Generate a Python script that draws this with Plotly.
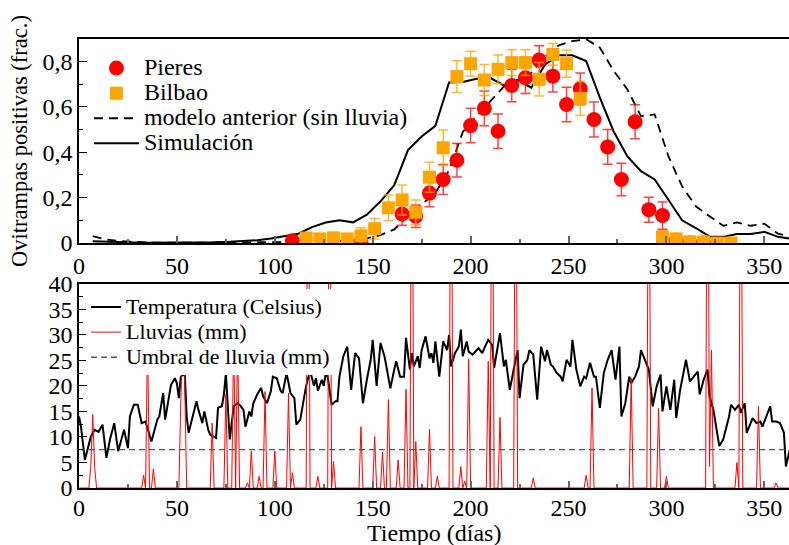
import plotly.graph_objects as go

# ---------------- top panel data ----------------
week_days = [7, 14, 21, 28, 35, 42, 49, 56, 63, 70, 77, 84, 91, 98, 105, 112, 119, 126,
             133, 140, 147, 154, 161, 168, 175, 182, 189, 196, 203, 210, 217, 224, 231,
             238, 245, 252, 259, 266, 273, 280, 287, 294, 301, 308, 315, 322, 329, 336,
             343, 350, 357, 364]
sim_vals = [0.008, 0.005, 0.003, 0.002, 0.001, 0.001, 0.001, 0.001, 0.002, 0.003, 0.005,
            0.008, 0.012, 0.02, 0.03, 0.041, 0.07, 0.09, 0.1, 0.091, 0.125, 0.184, 0.255,
            0.41, 0.47, 0.517, 0.708, 0.71, 0.725, 0.729, 0.695, 0.719, 0.685, 0.788, 0.828,
            0.828, 0.803, 0.641, 0.493, 0.383, 0.317, 0.28, 0.191, 0.1, 0.066, 0.029, 0.027,
            0.04, 0.04, 0.049, 0.027, 0.018]
prev_vals = [0.03, 0.015, 0.008, 0.004, 0.002, 0.001, 0.001, 0.001, 0.001, 0.001, 0.001,
             0.001, 0.002, 0.002, 0.003, 0.004, 0.005, 0.006, 0.007, 0.01, 0.02, 0.035, 0.06,
             0.12, 0.17, 0.221, 0.32, 0.49, 0.56, 0.626, 0.69, 0.72, 0.751, 0.822, 0.872,
             0.891, 0.899, 0.862, 0.76, 0.678, 0.56, 0.567, 0.383, 0.25, 0.162, 0.118, 0.076,
             0.091, 0.076, 0.085, 0.041, 0.027]

pieres_days = [109, 144, 165, 172, 179, 186, 193, 200, 207, 214, 221, 228, 235, 242, 249,
               256, 263, 270, 277, 284, 291, 298, 305, 312, 319]
pieres_vals = [0.01, 0.005, 0.128, 0.118, 0.22, 0.28, 0.365, 0.518, 0.594, 0.493, 0.695,
               0.729, 0.807, 0.736, 0.611, 0.68, 0.545, 0.424, 0.28, 0.535, 0.147, 0.121,
               0.012, 0.0, 0.0]
pieres_err = [0.015, 0.01, 0.05, 0.05, 0.06, 0.066, 0.074, 0.076, 0.077, 0.076, 0.072, 0.07,
              0.063, 0.07, 0.076, 0.07, 0.077, 0.077, 0.072, 0.075, 0.055, 0.06, 0.0, 0.0, 0.0]

bilbao_days = [116, 123, 130, 137, 144, 151, 158, 165, 172, 179, 186, 193, 200, 207, 214,
               221, 228, 235, 242, 249, 256, 298, 305, 312, 319, 326, 333]
bilbao_vals = [0.022, 0.018, 0.022, 0.018, 0.032, 0.063, 0.155, 0.19, 0.135, 0.29, 0.42,
               0.734, 0.791, 0.719, 0.766, 0.796, 0.796, 0.722, 0.832, 0.791, 0.638, 0.027,
               0.018, 0.005, 0.005, 0.0, 0.0]
bilbao_err = [0.02, 0.02, 0.025, 0.02, 0.035, 0.045, 0.057, 0.066, 0.055, 0.066, 0.078, 0.07,
              0.055, 0.068, 0.063, 0.057, 0.057, 0.074, 0.048, 0.06, 0.075, 0.025, 0.015,
              0.008, 0.008, 0.005, 0.005]

# ---------------- bottom panel data ----------------
temp_days = [0, 1, 3, 6, 8, 10, 12, 14, 16, 18, 20, 21, 23, 25, 26, 28, 30, 32, 34, 35, 37,
             40, 41, 43, 44, 46, 47, 49, 50, 51, 52, 54, 55, 56, 58, 60, 61, 63, 64, 66, 67,
             69, 70, 71, 73, 74, 75, 77, 79, 81, 82, 84, 85, 87, 88, 89, 91, 93, 94, 96, 98,
             99, 101, 103, 104, 106, 108, 110, 111, 113, 115, 116, 118, 120, 121, 122, 124,
             125, 126, 127, 129, 131, 132, 133, 135, 137, 139, 140, 141, 143, 145, 147, 149,
             150, 152, 154, 156, 157, 159, 161, 162, 164, 166, 167, 169, 170, 171, 173, 174,
             175, 177, 179, 180, 181, 182, 184, 186, 188, 189, 190, 192, 194, 195, 196, 198,
             199, 201, 204, 206, 207, 209, 211, 212, 215, 217, 218, 220, 222, 224, 225, 227,
             229, 230, 232, 234, 236, 238, 239, 241, 242, 244, 246, 247, 249, 251, 252, 254,
             256, 258, 259, 261, 263, 264, 266, 268, 270, 272, 274, 276, 277, 279, 281, 282,
             284, 286, 287, 289, 291, 293, 295, 297, 298, 300, 302, 304, 305, 307, 309, 310,
             312, 314, 316, 317, 319, 321, 322, 324, 326, 327, 329, 331, 332, 333, 335, 337,
             338, 340, 341, 343, 344, 346, 348, 349, 351, 353, 354, 356, 358, 360, 361, 363]
temp_vals = [14, 12, 5.5, 10, 11.4, 11, 12.4, 5.9, 9.8, 12.7, 7.2, 8.8, 11.4, 7.8, 14, 16.3,
             16.3, 12.7, 13, 11.7, 9.1, 13.4, 14, 18.6, 13.4, 18, 20.2, 21.5, 20.5, 17.6, 21.8,
             22.5, 14, 10.8, 14, 17, 15.3, 12.7, 15, 11.4, 10.4, 10.1, 9.8, 15.7, 16, 18.3,
             22.5, 9.5, 16, 16.6, 16.3, 15.3, 12, 15, 14, 16.6, 18.3, 19.6, 18, 16.6, 19, 21.8,
             21.5, 19, 18.6, 22.5, 18.6, 17.6, 12.4, 13.4, 18.3, 20, 23, 20, 21.5, 19, 21.2, 20,
             22.5, 21.8, 16.3, 17, 17, 21.8, 25.8, 27.7, 19.2, 23, 26.4, 25.4, 16.6, 21.2, 25.1,
             29, 20, 28.4, 25.8, 23.8, 19.5, 23.2, 24.8, 21.8, 21.8, 29.4, 23.2, 26.4, 23.8,
             25.8, 23.5, 27, 29.7, 25.4, 26.4, 24.5, 28.7, 21.8, 28.7, 27, 30, 23.8, 26.4, 27.7,
             31, 25.8, 28.7, 26.7, 26.1, 27.4, 26.4, 27.4, 29, 28, 23.5, 30.3, 23.8, 25.1, 19.2,
             23.2, 27, 17.6, 24.1, 25.1, 27, 26.1, 17.3, 27.7, 24.8, 27, 24.1, 23.8, 22.5, 21.8,
             20.9, 25.1, 23.8, 29, 23.2, 19.9, 21.8, 21.5, 24.5, 21.8, 21.8, 15.7, 22.5, 25.1,
             27, 21.2, 27.7, 14, 16.6, 21.8, 20.5, 21.8, 23.8, 27, 25.1, 23.2, 16, 19.9, 22.2,
             15, 19.9, 15.3, 21.2, 13.7, 19.2, 23.2, 25.1, 20.9, 21.8, 22.8, 18.3, 21.2, 23.2,
             18, 15.3, 10.1, 8.2, 9.5, 12.7, 14, 16.3, 15.3, 16.3, 14.7, 16.6, 10.8, 12.7, 13.7,
             12.7, 13, 12, 14, 16, 13, 13, 12.7, 10.8, 4.2, 7.5]

rain_days = [6, 7, 8, 33, 35, 38, 52, 53, 54, 68, 75, 79, 81, 86, 88, 92, 95, 100, 107, 109,
             117, 122, 128, 130, 144, 151, 155, 158, 163, 167, 170, 172, 179, 183, 190, 195,
             197, 199, 209, 211, 215, 223, 232, 259, 262, 282, 291, 296, 300, 321, 322, 323,
             336, 338, 347, 356]
rain_mm = [4, 14.4, 4, 2.5, 30, 3.7, 17.3, 30, 20, 12.7, 18.3, 30, 30, 1, 7.2, 2.3, 18.9, 7.2,
           18.6, 3, 90, 2.3, 90, 5.2, 12, 10.1, 7, 17.3, 5.5, 19.3, 90, 9.1, 11.5, 2.3, 90, 4.2,
           1.3, 25.3, 24.8, 90, 13.8, 90, 2, 2.5, 19.6, 21.5, 90, 15.6, 2.3, 90, 4.2, 27, 5,
           90, 16, 1]
rain_threshold = 7.5
year_days = list(range(0, 365))

x_ticks = [0, 50, 100, 150, 200, 250, 300, 350]
y1_ticks = [0, 0.2, 0.4, 0.6, 0.8]
y1_labels = ["0", "0,2", "0,4", "0,6", "0,8"]
y2_ticks = [0, 5, 10, 15, 20, 25, 30, 35, 40]

# daily rainfall series (zero on days without rain)
rain_lookup = dict(zip(rain_days, rain_mm))
rain_daily = [rain_lookup.get(d, 0) for d in year_days]

FONT = "Liberation Serif"
TICK = 24


def big(text, size):
    return '<span style="font-size:%dpx">%s</span>' % (size, text)


fig = go.Figure()

# top panel
fig.add_trace(go.Scatter(x=week_days, y=prev_vals, mode="lines",
                         name=big("modelo anterior (sin lluvia)", 24),
                         line=dict(color="black", width=1.8, dash="9px,6px"),
                         legend="legend", legendrank=3, xaxis="x", yaxis="y"))
fig.add_trace(go.Scatter(x=week_days, y=sim_vals, mode="lines", name=big("Simulación", 24),
                         line=dict(color="black", width=2),
                         legend="legend", legendrank=4, xaxis="x", yaxis="y"))
fig.add_trace(go.Scatter(x=pieres_days, y=pieres_vals, mode="markers", name=big("Pieres", 24),
                         marker=dict(color="#ff0000", size=15, symbol="circle"),
                         error_y=dict(type="data", array=pieres_err, color="rgba(255,0,0,0.75)",
                                      thickness=1.5, width=5),
                         legend="legend", legendrank=1, xaxis="x", yaxis="y"))
fig.add_trace(go.Scatter(x=bilbao_days, y=bilbao_vals, mode="markers", name=big("Bilbao", 24),
                         marker=dict(color="#ffa500", size=13, symbol="square"),
                         error_y=dict(type="data", array=bilbao_err, color="rgba(255,165,0,0.8)",
                                      thickness=1.5, width=5),
                         legend="legend", legendrank=2, xaxis="x", yaxis="y"))

# bottom panel
fig.add_trace(go.Scatter(x=temp_days, y=temp_vals, mode="lines",
                         name=big("Temperatura (Celsius)", 22),
                         line=dict(color="black", width=2),
                         legend="legend2", legendrank=1, xaxis="x2", yaxis="y2"))
fig.add_trace(go.Scatter(x=year_days, y=rain_daily, mode="lines", name=big("Lluvias (mm)", 22),
                         line=dict(color="#ff0000", width=1),
                         legend="legend2", legendrank=2, xaxis="x2", yaxis="y2"))
fig.add_trace(go.Scatter(x=[0, 365], y=[rain_threshold, rain_threshold], mode="lines",
                         name=big("Umbral de lluvia (mm)", 22),
                         line=dict(color="#555555", width=1.3, dash="6px,4px"),
                         legend="legend2", legendrank=3, xaxis="x2", yaxis="y2"))

xcommon = dict(range=[0, 362.6], tickvals=x_ticks, ticks="inside", ticklen=7, tickwidth=1.5,
               tickcolor="#666666", showline=True, linecolor="black", linewidth=1.5,
               mirror=True, showgrid=False, zeroline=False,
               tickfont=dict(family=FONT, size=TICK, color="black"),
               minor=dict(dtick=25, tick0=0, ticks="inside", ticklen=4, tickcolor="#666666",
                          showgrid=False))

fig.update_layout(
    width=789, height=545,
    margin=dict(l=79, r=0, t=39, b=57),
    paper_bgcolor="white", plot_bgcolor="white",
    font=dict(family=FONT, color="black"),
    xaxis=dict(domain=[0, 1], anchor="y", **xcommon),
    xaxis2=dict(domain=[0, 1], anchor="y2", ticklabelstandoff=-3, **xcommon),
    yaxis=dict(domain=[0.5457, 1], anchor="x", range=[0, 0.9], tickvals=y1_ticks,
               ticktext=y1_labels, ticks="inside", ticklen=8, tickwidth=1.2, tickcolor="black",
               showline=True, linecolor="black", linewidth=1.5, mirror=False, showgrid=False,
               zeroline=False, tickfont=dict(family=FONT, size=TICK, color="black"),
               minor=dict(dtick=0.1, tick0=0, ticks="inside", ticklen=4, tickcolor="black",
                          showgrid=False),
               title=dict(text="Ovitrampas positivas (frac.)", font=dict(family=FONT, size=22.5),
                          standoff=9)),
    yaxis2=dict(domain=[0, 0.455], anchor="x2", range=[0, 40], tickvals=y2_ticks,
                ticks="inside", ticklen=8, tickwidth=1.2, tickcolor="black",
                showline=True, linecolor="black", linewidth=1.5, mirror=False, showgrid=False,
                zeroline=False, tickfont=dict(family=FONT, size=TICK, color="black"),
                minor=dict(dtick=2.5, tick0=0, ticks="inside", ticklen=4, tickcolor="black",
                           showgrid=False)),
    legend=dict(x=0.014, y=0.9744, xanchor="left", yanchor="top", bgcolor="rgba(0,0,0,0)",
                borderwidth=0, font=dict(family=FONT, size=17, color="black"),
                itemwidth=45, tracegroupgap=0),
    legend2=dict(x=0.01, y=0.4421, xanchor="left", yanchor="top", bgcolor="white",
                 borderwidth=0, font=dict(family=FONT, size=17, color="black"),
                 itemwidth=30, tracegroupgap=0),
    showlegend=True,
    annotations=[dict(text="Tiempo (días)", xref="paper", yref="paper", x=0.5, y=-0.1,
                      xanchor="center", yanchor="middle", showarrow=False,
                      font=dict(family=FONT, size=24, color="black"))],
)

fig.write_html("out.html")
